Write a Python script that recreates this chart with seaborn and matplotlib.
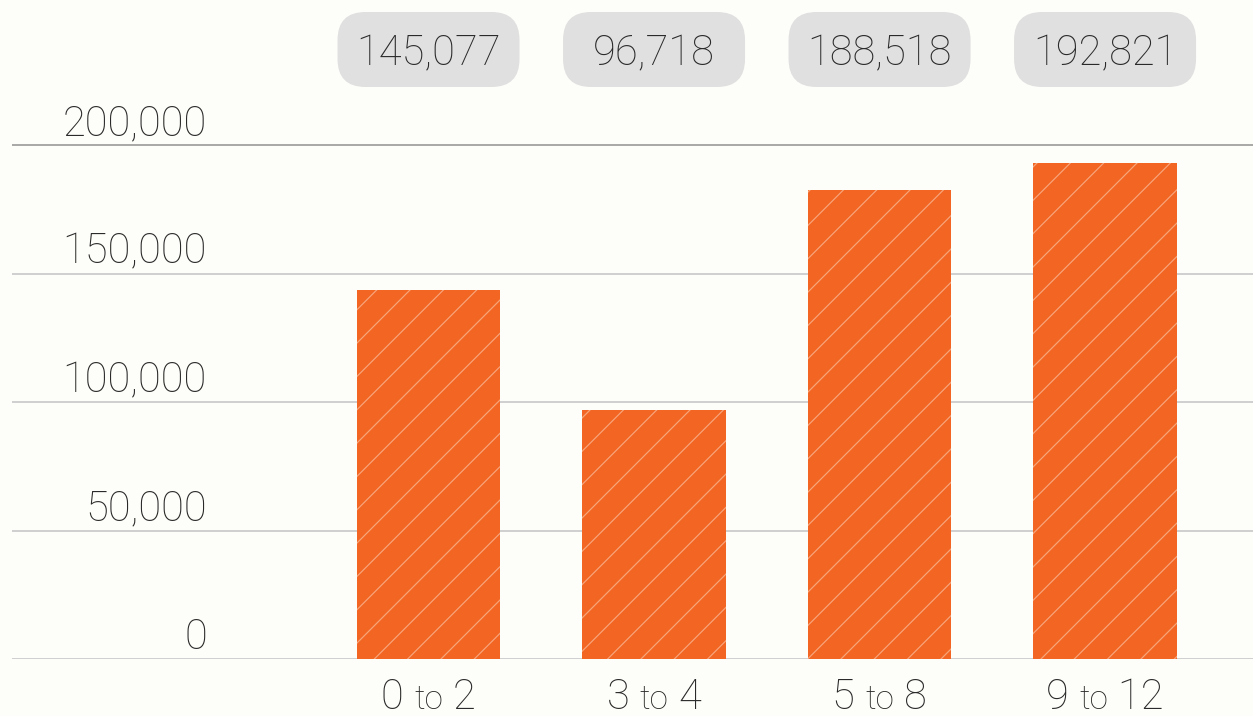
import matplotlib
matplotlib.use("Agg")
import matplotlib.pyplot as plt
import seaborn as sns
import pandas as pd
from matplotlib.patches import FancyBboxPatch
from matplotlib.offsetbox import TextArea, HPacker, AnnotationBbox
from matplotlib import transforms

# ---- data ----
categories = ["0 to 2", "3 to 4", "5 to 8", "9 to 12"]
bar_values = [143600, 96900, 182500, 193000]
value_labels = ["145,077", "96,718", "188,518", "192,821"]
y_ticks = [0, 50000, 100000, 150000, 200000]
y_tick_labels = ["0", "50,000", "100,000", "150,000", "200,000"]

BG = "#FDFDF9"
BAR = "#F26522"
HATCH = "#F8A47A"
TXT = "#2A2A2A"
FONT = "Roboto"
WEIGHT = "light"

sns.set_theme(style="white")
plt.rcParams["font.family"] = [FONT, "DejaVu Sans"]
plt.rcParams["hatch.linewidth"] = 0.9

W, H, DPI = 1253, 716, 100
fig = plt.figure(figsize=(W / DPI, H / DPI), dpi=DPI, facecolor=BG)
ax = fig.add_axes([12 / W, (H - 659) / H, 1 - 12 / W, 659 / H])
ax.set_facecolor(BG)

df = pd.DataFrame({"cat": categories, "val": bar_values})
sns.barplot(data=df, x="cat", y="val", color=BAR, saturation=1, width=0.635,
            hatch="/", edgecolor=HATCH, linewidth=0, ax=ax)

ax.set_xlim(-1.847, 3.656)
ax.set_ylim(0, 200000 * 659 / 514)
for s in ax.spines.values():
    s.set_visible(False)
ax.set_xticks([])
ax.set_yticks([])
ax.set_xlabel("")
ax.set_ylabel("")

# grid lines
for v in y_ticks:
    col = "#9A9A9A" if v == 200000 else "#C8C8C8"
    ax.axhline(v, color=col, lw=1.2, zorder=0.5)

# y labels
ytr = transforms.blended_transform_factory(fig.transFigure, ax.transData)
for v, lab in zip(y_ticks, y_tick_labels):
    ax.annotate(lab, xy=(207 / W, v), xycoords=ytr, xytext=(0, 10),
                textcoords="offset pixels", ha="right", va="baseline",
                fontsize=30, color=TXT, fontweight=WEIGHT)

# x labels with smaller "to"
for i, c in enumerate(categories):
    a, mid, b = c.split(" ")
    parts = [TextArea(a + " ", textprops=dict(fontsize=30, color=TXT, fontweight=WEIGHT)),
             TextArea(mid, textprops=dict(fontsize=24, color=TXT, fontweight=WEIGHT)),
             TextArea(" " + b, textprops=dict(fontsize=30, color=TXT, fontweight=WEIGHT))]
    pack = HPacker(children=parts, align="baseline", pad=0, sep=0)
    ab = AnnotationBbox(pack, (i, 0), xycoords=("data", "data"),
                        xybox=(0, -18), boxcoords="offset pixels",
                        box_alignment=(0.5, 1), frameon=False, pad=0)
    ax.add_artist(ab)

# value label boxes
fig.canvas.draw()
px_per_x = ax.transData.transform((1, 0))[0] - ax.transData.transform((0, 0))[0]
px_per_y = ax.transData.transform((0, 1))[1] - ax.transData.transform((0, 0))[1]
box_w = 182 / px_per_x
box_h = 75 / px_per_y
box_top = (659 - 12) / px_per_y
r = 28 / px_per_x
aspect = px_per_x / px_per_y
for i, lab in enumerate(value_labels):
    p = FancyBboxPatch((i - box_w / 2, box_top - box_h), box_w, box_h,
                       boxstyle=f"round,pad=0,rounding_size={r}",
                       mutation_aspect=aspect, facecolor="#E0E0E0",
                       edgecolor="none", clip_on=False, zorder=3)
    ax.add_patch(p)
    ax.text(i, box_top - box_h / 2, lab, ha="center", va="center_baseline",
            fontsize=30, color=TXT, fontweight=WEIGHT, zorder=4)

fig.savefig("out.png", dpi=DPI, facecolor=BG)
